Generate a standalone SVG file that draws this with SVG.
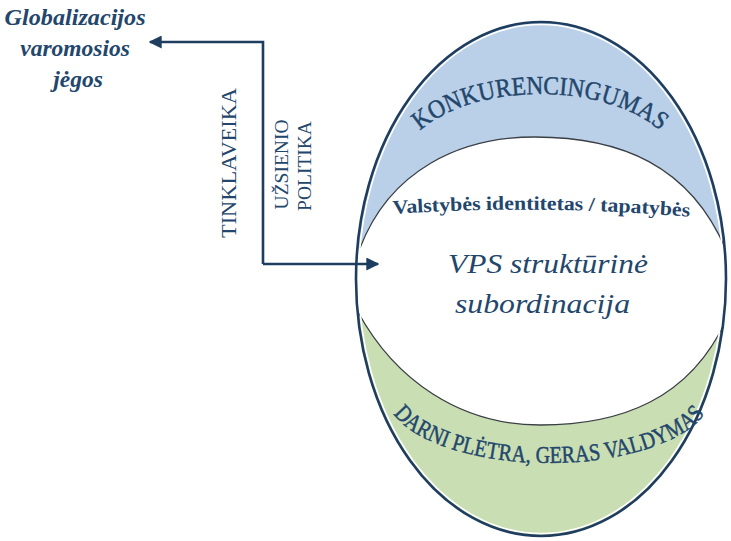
<svg xmlns="http://www.w3.org/2000/svg" width="731" height="541" viewBox="0 0 731 541">
  <style>
    text { fill: #23466c; font-family: "Liberation Serif", "DejaVu Serif", serif; }
    .heavy { stroke: #23466c; stroke-width: 0.45; }
    .line { fill: none; stroke: #1f3d5f; stroke-width: 2.6; }
    .seam { fill: none; stroke: #3a3f45; stroke-width: 1.3; }
  </style>
  <defs>
    <marker id="head" viewBox="0 0 10 10" refX="9" refY="5" markerWidth="5" markerHeight="5" orient="auto-start-reverse" markerUnits="strokeWidth">
      <path d="M0,0 L10,5 L0,10 Z" fill="#1f3d5f"/>
    </marker>
    <clipPath id="oval">
      <ellipse cx="541" cy="279" rx="185" ry="257"/>
    </clipPath>
    <path id="topArc" d="M 400,170 A 140,76 0 0 1 680,170"/>
    <path id="bottomArc" d="M 386,393 A 163,70 0 0 0 712,393"/>
    <path id="midArc" d="M 393,214 Q 540,204 692,217"/>
  </defs>

  <!-- left label -->
  <g id="globalizacija">
    <text font-size="23.5" font-weight="bold" font-style="italic" text-anchor="middle">
      <tspan x="78" y="25" textLength="141" lengthAdjust="spacingAndGlyphs">Globalizacijos</tspan>
      <tspan x="78" y="56">varomosios</tspan>
      <tspan x="78" y="87">jėgos</tspan>
    </text>
  </g>

  <!-- central oval -->
  <g id="oval-node">
    <g clip-path="url(#oval)">
      <rect x="350" y="15" width="390" height="270" fill="#b9d0e8"/>
      <rect x="350" y="285" width="390" height="260" fill="#c9deb3"/>
      <path d="M 340,262 L 360,248 C 390,170 460,137 535,137 C 620,137 690,165 726,250 L 745,262 L 745,314 L 727,318 C 690,400 620,425 540,425 C 460,425 395,380 358,312 L 340,312 Z" fill="#ffffff"/>
      <path class="seam" d="M 360,248 C 390,170 460,137 535,137 C 620,137 690,165 726,250"/>
      <path class="seam" d="M 358,312 C 395,380 460,425 540,425 C 620,425 690,400 727,318"/>
    </g>
    <ellipse cx="541" cy="279" rx="182.5" ry="254.5" fill="none" stroke="#ffffff" stroke-width="1.6"/>
    <ellipse class="line" cx="541" cy="279" rx="185" ry="257"/>
  </g>

  <g id="konkurencingumas">
    <text class="heavy" font-size="26">
      <textPath href="#topArc" startOffset="50%" text-anchor="middle" textLength="256" lengthAdjust="spacingAndGlyphs">KONKURENCINGUMAS</textPath>
    </text>
  </g>

  <g id="identitetas">
    <text font-size="19.5" font-weight="bold">
      <textPath href="#midArc" textLength="297" lengthAdjust="spacingAndGlyphs">Valstybės identitetas / tapatybės</textPath>
    </text>
  </g>

  <g id="vps">
    <text font-size="28" font-style="italic">
      <tspan x="448" y="273" textLength="200" lengthAdjust="spacingAndGlyphs">VPS struktūrinė</tspan>
      <tspan x="455" y="313" textLength="175" lengthAdjust="spacingAndGlyphs">subordinacija</tspan>
    </text>
  </g>

  <g id="darni-pletra">
    <text class="heavy" font-size="24">
      <textPath href="#bottomArc" startOffset="50%" text-anchor="middle" textLength="336" lengthAdjust="spacingAndGlyphs">DARNI PLĖTRA, GERAS VALDYMAS</textPath>
    </text>
  </g>

  <!-- side labels along the connector -->
  <g id="tinklaveika">
    <text font-size="22" text-anchor="middle" transform="translate(236,163) rotate(-90)" textLength="150" lengthAdjust="spacingAndGlyphs">TINKLAVEIKA</text>
  </g>
  <g id="uzsienio-politika">
    <text font-size="19.5" text-anchor="middle" transform="rotate(-90)">
      <tspan x="-162" y="288">UŽSIENIO</tspan>
      <tspan x="-166" y="311">POLITIKA</tspan>
    </text>
  </g>

  <!-- connectors -->
  <g id="connectors">
    <path class="line" d="M 263,264 L 263,42 L 150,42" marker-end="url(#head)"/>
    <path class="line" d="M 263,264 L 378,264" marker-end="url(#head)"/>
  </g>
</svg>
